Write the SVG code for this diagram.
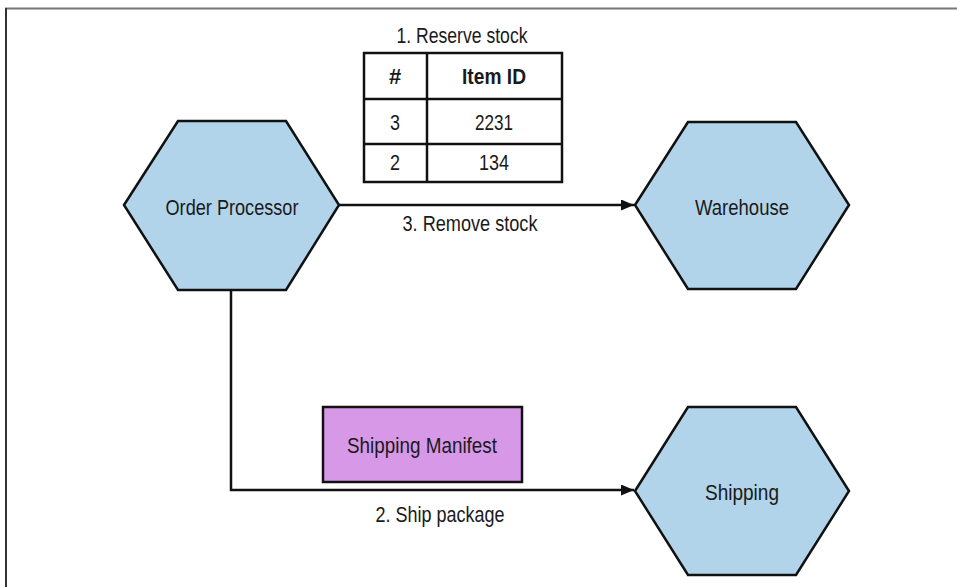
<svg xmlns="http://www.w3.org/2000/svg" width="957" height="587" viewBox="0 0 957 587">
<style>
.hex{fill:#b1d4ea;stroke:#111;stroke-width:2.5;stroke-linejoin:miter}
.t{font-family:"Liberation Sans",Arial,sans-serif;font-size:22px;fill:#1a1a1a;text-anchor:middle}
.b{font-weight:bold}
.line{fill:none;stroke:#111;stroke-width:2.5}
.cell{fill:#fff;stroke:#111;stroke-width:2.5}
</style>
<defs>
<marker id="arr" viewBox="0 0 13 11" refX="13" refY="5.5" markerWidth="13" markerHeight="11" markerUnits="userSpaceOnUse" orient="auto">
<path d="M0,0 L13,5.5 L0,11 z" fill="#111"/>
</marker>
</defs>
<rect width="957" height="587" fill="#fff"/>
<g id="frame">
<line x1="5" y1="8.5" x2="957" y2="8.5" stroke="#777" stroke-width="2"/>
<line x1="6" y1="8" x2="6" y2="587" stroke="#333" stroke-width="2"/>
</g>
<g id="connectors">
<line class="line" x1="339" y1="205" x2="634" y2="205" marker-end="url(#arr)"/>
<polyline class="line" points="231,290 231,490 634,490" marker-end="url(#arr)"/>
<text class="t" x="470" y="231" textLength="135" lengthAdjust="spacingAndGlyphs">3. Remove stock</text>
<text class="t" x="440" y="522" textLength="129" lengthAdjust="spacingAndGlyphs">2. Ship package</text>
</g>
<g id="order-processor">
<polygon class="hex" points="124,205 178,121 286,121 339,205 286,290 178,290"/>
<text class="t" x="232" y="215" textLength="133" lengthAdjust="spacingAndGlyphs">Order Processor</text>
</g>
<g id="warehouse">
<polygon class="hex" points="635,205 688,122 796,122 849,205 796,289 688,289"/>
<text class="t" x="742" y="215" textLength="94" lengthAdjust="spacingAndGlyphs">Warehouse</text>
</g>
<g id="shipping">
<polygon class="hex" points="635,491 688,407 796,407 849,491 796,575 688,575"/>
<text class="t" x="742" y="500" textLength="74" lengthAdjust="spacingAndGlyphs">Shipping</text>
</g>
<g id="shipping-manifest">
<rect x="323" y="407" width="199" height="75" fill="#d898e8" stroke="#111" stroke-width="2.5"/>
<text class="t" x="422" y="453" textLength="150" lengthAdjust="spacingAndGlyphs">Shipping Manifest</text>
</g>
<g id="reserve-stock-table">
<text class="t" x="462" y="43" textLength="131" lengthAdjust="spacingAndGlyphs">1. Reserve stock</text>
<rect class="cell" x="364" y="53" width="198" height="129"/>
<line class="line" x1="364" y1="99" x2="562" y2="99"/>
<line class="line" x1="364" y1="144" x2="562" y2="144"/>
<line class="line" x1="427" y1="53" x2="427" y2="182"/>
<text class="t b" x="395" y="84">#</text>
<text class="t b" x="494" y="84" textLength="64" lengthAdjust="spacingAndGlyphs">Item ID</text>
<text class="t" x="395" y="130" textLength="10" lengthAdjust="spacingAndGlyphs">3</text>
<text class="t" x="494" y="130" textLength="38" lengthAdjust="spacingAndGlyphs">2231</text>
<text class="t" x="395" y="170" textLength="10" lengthAdjust="spacingAndGlyphs">2</text>
<text class="t" x="494" y="170" textLength="30" lengthAdjust="spacingAndGlyphs">134</text>
</g>
</svg>
